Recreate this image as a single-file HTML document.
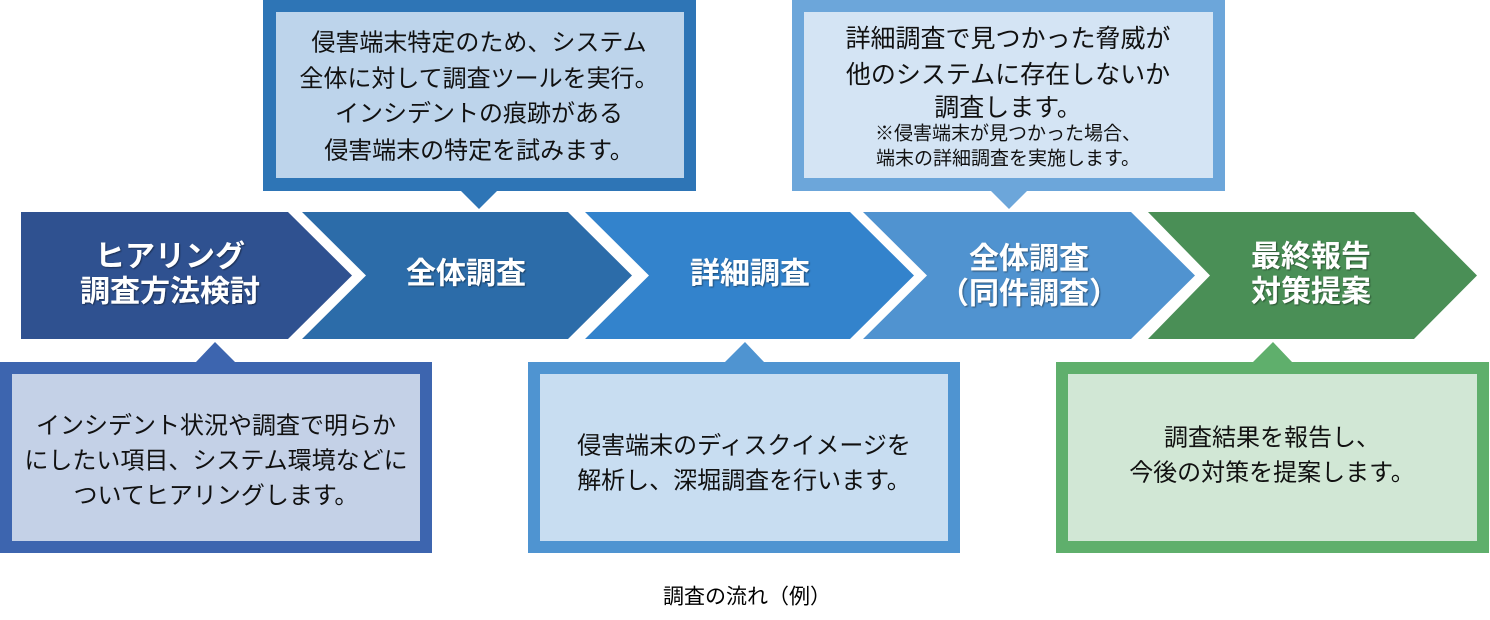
<!DOCTYPE html>
<html>
<head>
<meta charset="utf-8">
<style>
html,body{margin:0;padding:0;background:#fff;}
body{width:1490px;height:620px;overflow:hidden;}
svg{display:block;}
.lbl{font-family:"Liberation Sans","Noto Sans CJK JP",sans-serif;font-weight:bold;font-size:30px;fill:#fff;text-anchor:middle;dominant-baseline:central;}
.bt{font-family:"Liberation Sans","Noto Sans CJK JP",sans-serif;font-size:24px;fill:#111;text-anchor:middle;dominant-baseline:central;}
.bs{font-family:"Liberation Sans","Noto Sans CJK JP",sans-serif;font-size:19px;fill:#111;text-anchor:middle;dominant-baseline:central;}
</style>
</head>
<body>
<svg width="1490" height="620" viewBox="0 0 1490 620" xmlns="http://www.w3.org/2000/svg">
<defs>
<filter id="sh" x="-10%" y="-10%" width="120%" height="130%">
<feDropShadow dx="1" dy="1" stdDeviation="0.8" flood-color="#000" flood-opacity="0.45"/>
</filter>
</defs>

<!-- Arrows -->
<polygon points="21,212 288,212 352,275.5 288,339 21,339" fill="#2F5190"/>
<polygon points="302,212 568,212 632,275.5 568,339 302,339 366,275.5" fill="#2C6CA9"/>
<polygon points="585,212 850,212 914,275.5 850,339 585,339 649,275.5" fill="#3383CC"/>
<polygon points="863,212 1131,212 1195,275.5 1131,339 863,339 927,275.5" fill="#5093D0"/>
<polygon points="1148,212 1414,212 1477,275.5 1414,339 1148,339 1210,275.5" fill="#4A8F56"/>

<!-- Arrow labels -->
<g filter="url(#sh)">
<text class="lbl" x="170" y="257">ヒアリング</text>
<text class="lbl" x="170" y="292">調査方法検討</text>
<text class="lbl" x="466" y="274">全体調査</text>
<text class="lbl" x="750" y="274">詳細調査</text>
<text class="lbl" x="1029" y="259">全体調査</text>
<text class="lbl" x="1029" y="294">（同件調査）</text>
<text class="lbl" x="1311" y="257">最終報告</text>
<text class="lbl" x="1311" y="292">対策提案</text>
</g>

<!-- Box 1 (bottom-left) -->
<polygon points="215,342 196,362 235,362" fill="#3D65AF"/>
<rect x="0" y="362" width="432" height="191" fill="#3D65AF"/>
<rect x="12" y="374" width="408" height="167" fill="#C4D1E7"/>
<text class="bt" x="216" y="426">インシデント状況や調査で明らか</text>
<text class="bt" x="216" y="461">にしたい項目、システム環境などに</text>
<text class="bt" x="216" y="496">ついてヒアリングします。</text>

<!-- Box 2 (top, 全体調査) -->
<rect x="263" y="0" width="433" height="191" fill="#2E75B6"/>
<polygon points="460,190 498,190 479,209" fill="#2E75B6"/>
<rect x="276" y="12" width="408" height="166" fill="#BDD4EB"/>
<text class="bt" x="479" y="43">侵害端末特定のため、システム</text>
<text class="bt" x="479" y="79">全体に対して調査ツールを実行。</text>
<text class="bt" x="479" y="114">インシデントの痕跡がある</text>
<text class="bt" x="479" y="151">侵害端末の特定を試みます。</text>

<!-- Box 3 (top, 同件調査) -->
<rect x="792" y="0" width="433" height="191" fill="#6CA6DA"/>
<polygon points="990,190 1028,190 1009,209" fill="#6CA6DA"/>
<rect x="804" y="12" width="409" height="166" fill="#D4E4F4"/>
<text class="bt" x="1008" y="39" style="font-size:25px">詳細調査で見つかった脅威が</text>
<text class="bt" x="1008" y="75" style="font-size:25px">他のシステムに存在しないか</text>
<text class="bt" x="1008" y="108" style="font-size:25px">調査します。</text>
<text class="bs" x="1008" y="134">※侵害端末が見つかった場合、</text>
<text class="bs" x="1008" y="159">端末の詳細調査を実施します。</text>

<!-- Box 4 (bottom, 詳細調査) -->
<polygon points="745,342 725,362 764,362" fill="#4F94D1"/>
<rect x="528" y="362" width="432" height="191" fill="#4F94D1"/>
<rect x="540" y="374" width="408" height="167" fill="#C8DDF1"/>
<text class="bt" x="744" y="446">侵害端末のディスクイメージを</text>
<text class="bt" x="744" y="481">解析し、深堀調査を行います。</text>

<!-- Box 5 (bottom-right, green) -->
<polygon points="1273,342 1253,362 1292,362" fill="#5FAF6C"/>
<rect x="1056" y="362" width="433" height="191" fill="#5FAF6C"/>
<rect x="1068" y="374" width="409" height="167" fill="#D1E7D5"/>
<text class="bt" x="1272" y="438">調査結果を報告し、</text>
<text class="bt" x="1272" y="473">今後の対策を提案します。</text>

<!-- Caption -->
<text class="bt" x="747" y="597" style="font-size:21px;fill:#000">調査の流れ（例）</text>
</svg>
</body>
</html>
